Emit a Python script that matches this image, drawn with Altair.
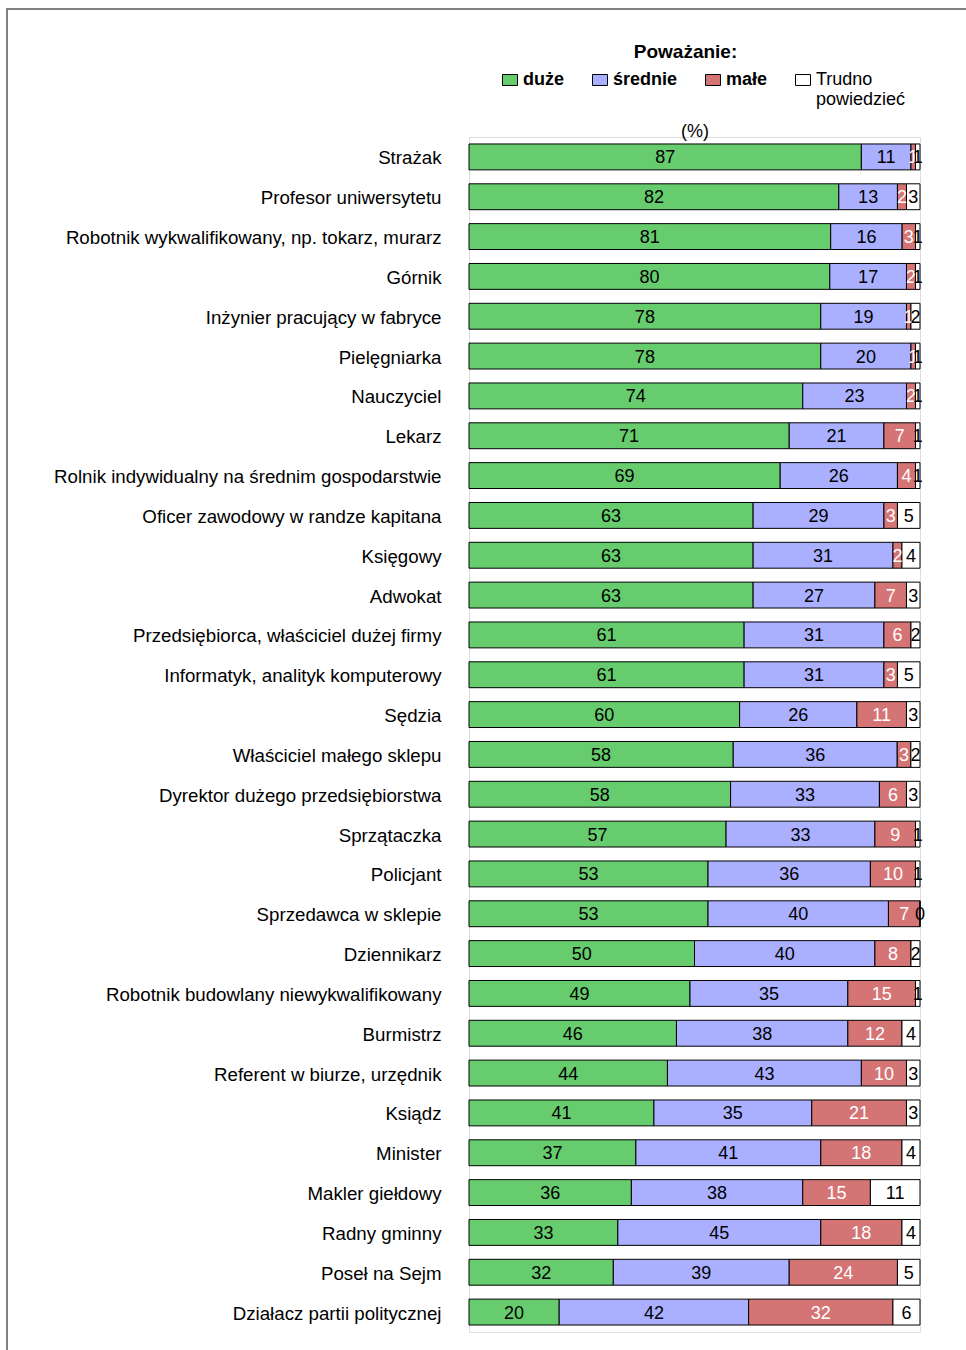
import altair as alt
import pandas as pd

FONT = "Liberation Sans, Arial, sans-serif"

jobs = [
    "Strażak",
    "Profesor uniwersytetu",
    "Robotnik wykwalifikowany, np. tokarz, murarz",
    "Górnik",
    "Inżynier pracujący w fabryce",
    "Pielęgniarka",
    "Nauczyciel",
    "Lekarz",
    "Rolnik indywidualny na średnim gospodarstwie",
    "Oficer zawodowy w randze kapitana",
    "Księgowy",
    "Adwokat",
    "Przedsiębiorca, właściciel dużej firmy",
    "Informatyk, analityk komputerowy",
    "Sędzia",
    "Właściciel małego sklepu",
    "Dyrektor dużego przedsiębiorstwa",
    "Sprzątaczka",
    "Policjant",
    "Sprzedawca w sklepie",
    "Dziennikarz",
    "Robotnik budowlany niewykwalifikowany",
    "Burmistrz",
    "Referent w biurze, urzędnik",
    "Ksiądz",
    "Minister",
    "Makler giełdowy",
    "Radny gminny",
    "Poseł na Sejm",
    "Działacz partii politycznej",
]
duze = [87, 82, 81, 80, 78, 78, 74, 71, 69, 63, 63, 63, 61, 61, 60, 58, 58, 57, 53, 53, 50, 49, 46, 44, 41, 37, 36, 33, 32, 20]
srednie = [11, 13, 16, 17, 19, 20, 23, 21, 26, 29, 31, 27, 31, 31, 26, 36, 33, 33, 36, 40, 40, 35, 38, 43, 35, 41, 38, 45, 39, 42]
male = [1, 2, 3, 2, 1, 1, 2, 7, 4, 3, 2, 7, 6, 3, 11, 3, 6, 9, 10, 7, 8, 15, 12, 10, 21, 18, 15, 18, 24, 32]
trudno = [1, 3, 1, 1, 2, 1, 1, 1, 1, 5, 4, 3, 2, 5, 3, 2, 3, 1, 1, 0, 2, 1, 4, 3, 3, 4, 11, 4, 5, 6]

categories = ["duże", "średnie", "małe", "Trudno powiedzieć"]
colors = ["#66CC6E", "#AAAFFF", "#D47474", "#FFFFFF"]

rows = []
for i, j in enumerate(jobs):
    for k, vals in enumerate([duze, srednie, male, trudno]):
        rows.append({"job": j, "cat": categories[k], "order": k, "value": vals[i]})
df = pd.DataFrame(rows)

base = alt.Chart(df).transform_stack(
    stack="value",
    groupby=["job"],
    sort=[alt.SortField("order")],
    as_=["x0", "x1"],
    offset="normalize",
).transform_calculate(xm="(datum.x0 + datum.x1) / 2")

yenc = alt.Y(
    "job:N",
    sort=jobs,
    scale=alt.Scale(paddingInner=0.35, paddingOuter=0.175),
    axis=alt.Axis(
        title=None, domain=False, ticks=False, labelPadding=28, labelOffset=1.5,
        labelFont=FONT, labelFontSize=18.7, labelColor="#000", labelLimit=500,
    ),
)

bars = base.mark_bar(stroke="#000", strokeWidth=1).encode(
    y=yenc,
    x=alt.X(
        "x0:Q",
        scale=alt.Scale(domain=[0, 1], nice=False),
        axis=alt.Axis(
            orient="top", title="(%)", labels=False, ticks=False, domain=False, grid=False,
            titleFont=FONT, titleFontSize=18, titleFontWeight="normal", titleColor="#000",
            titlePadding=-3,
        ),
    ),
    x2="x1:Q",
    color=alt.Color(
        "cat:N",
        scale=alt.Scale(domain=categories, range=colors),
        legend=alt.Legend(
            orient="none", legendX=32, legendY=-66, direction="horizontal", title=None,
            symbolType="M-1,-0.73L1,-0.73L1,0.73L-1,0.73Z", symbolSize=225,
            symbolStrokeColor="#000", symbolStrokeWidth=1,
            labelFont=FONT, labelFontSize=18, labelColor="#000", labelOffset=4,
            columnPadding=25, padding=0,
            labelExpr="datum.value == 'Trudno powiedzieć' ? ['Trudno', 'powiedzieć'] : [datum.label, '']",
            labelFontWeight=alt.ExprRef(expr="datum.value == 'Trudno powiedzieć' ? 'normal' : 'bold'"),
        ),
    ),
)

labels = base.mark_text(font=FONT, fontSize=18, baseline="middle", dy=1.5).encode(
    y=alt.Y("job:N", sort=jobs),
    x=alt.X("xm:Q"),
    text=alt.Text("value:Q"),
    color=alt.condition(alt.datum.cat == "małe", alt.value("white"), alt.value("black")),
)

frame = alt.Chart(alt.Data(values=[{}])).mark_rect(
    fill="transparent", stroke="#808080", strokeWidth=2
).encode(
    x=alt.value(-462), x2=alt.value(540), y=alt.value(-128), y2=alt.value(1260)
)

chart = alt.layer(frame, bars, labels).properties(
    width=451,
    height=1195,
    autosize=alt.AutoSizeParams(type="none"),
    padding={"left": 469, "top": 137, "right": 46, "bottom": 18},
    title=alt.TitleParams(
        "Poważanie:", font=FONT, fontSize=19, fontWeight="bold", color="#000",
        anchor="middle", frame="group", dx=-9, offset=4, dy=58,
    ),
).configure_view(stroke=None).configure(background="white")

chart.save("out.html", embed_options={"renderer": "svg", "actions": False})
